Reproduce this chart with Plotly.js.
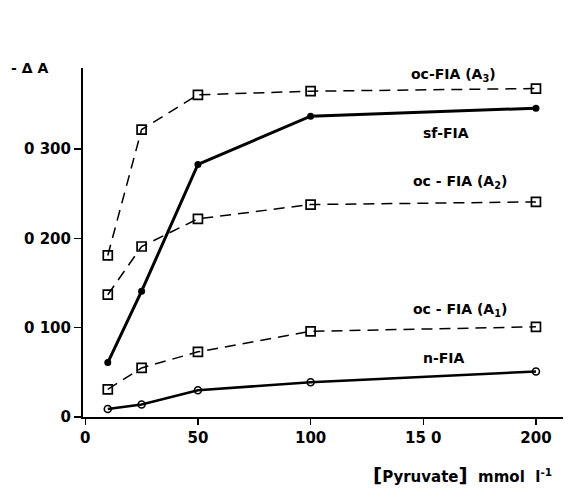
<!DOCTYPE html>
<html>
<head>
<meta charset="utf-8">
<script src="https://cdn.plot.ly/plotly-3.0.1.min.js"></script>
<style>html,body{margin:0;padding:0;background:#fff;}#chart{width:574px;height:491px;}</style>
</head>
<body>
<div id="chart"></div>
<script>
const pyruvate = [10, 25, 50, 100, 200];
const ocA3 = [0.181, 0.322, 0.361, 0.365, 0.368];
const sfFIA = [0.061, 0.141, 0.283, 0.337, 0.346];
const ocA2 = [0.137, 0.191, 0.222, 0.238, 0.241];
const ocA1 = [0.031, 0.055, 0.073, 0.096, 0.101];
const nFIA = [0.009, 0.014, 0.030, 0.039, 0.051];
const xTickVals = [0, 50, 100, 150, 200];
const xTickText = ["0", "50", "100", "15 0", "200"];
const yTickVals = [0, 0.1, 0.2, 0.3];
const yTickText = ["0", "0 100", "0 200", "0 300"];

const dashed = {color: "#000", width: 1.5, dash: "11px,7px"};
const openSq = {symbol: "square-open", size: 9, color: "#000", line: {width: 1.7, color: "#000"}};

const traces = [
  {x: pyruvate, y: ocA3, mode: "lines+markers", line: dashed, marker: openSq},
  {x: pyruvate, y: ocA2, mode: "lines+markers", line: dashed, marker: openSq},
  {x: pyruvate, y: ocA1, mode: "lines+markers", line: dashed, marker: openSq},
  {x: pyruvate, y: sfFIA, mode: "lines+markers", line: {color: "#000", width: 3},
   marker: {symbol: "circle", size: 7, color: "#000"}},
  {x: pyruvate, y: nFIA, mode: "lines+markers", line: {color: "#000", width: 2.6},
   marker: {symbol: "circle-open", size: 7, color: "#000", line: {width: 1.6, color: "#000"}}}
];

const fam = "DejaVu Sans, Verdana, sans-serif";
const font = {family: fam, size: 14, color: "#000", weight: "bold"};
const labels = [
  {x: 200, y: 0.383, text: "oc-FIA (A<sub>3</sub>)", dx: -82},
  {x: 200, y: 0.318, text: "sf-FIA", dx: -90},
  {x: 200, y: 0.263, text: "oc - FIA (A<sub>2</sub>)", dx: -76},
  {x: 200, y: 0.120, text: "oc - FIA (A<sub>1</sub>)", dx: -76},
  {x: 200, y: 0.066, text: "n-FIA", dx: -92}
];
const annotations = labels.map(l => ({
  x: l.x, y: l.y, xref: "x", yref: "y", text: l.text, showarrow: false,
  xshift: l.dx, font: font
}));
annotations.push({xref: "paper", yref: "paper", x: -0.155, y: 1.0, xanchor: "left", yanchor: "middle",
  text: "- Δ A", showarrow: false, font: font});
annotations.push({xref: "paper", yref: "paper", x: 0.79, y: -0.165, xanchor: "center", yanchor: "middle",
  text: "<span style='font-size:20px'>[</span>Pyruvate<span style='font-size:20px'>]</span>  mmol  l<sup>-1</sup>",
  showarrow: false, font: {family: fam, size: 15, color: "#000", weight: "bold"}});

const tickfont = {family: fam, size: 15, color: "#000", weight: "bold"};
const layout = {
  width: 574, height: 491,
  margin: {l: 83, r: 11, t: 68, b: 74},
  paper_bgcolor: "#fff", plot_bgcolor: "#fff",
  showlegend: false,
  font: font,
  xaxis: {
    range: [-1, 212], tickvals: xTickVals, ticktext: xTickText,
    showgrid: false, zeroline: false, showline: true, linecolor: "#000", linewidth: 2,
    ticks: "outside", ticklen: 6, tickwidth: 1.5, tickcolor: "#000",
    tickfont: tickfont
  },
  yaxis: {
    range: [0, 0.391], tickvals: yTickVals, ticktext: yTickText,
    showgrid: false, zeroline: false, showline: true, linecolor: "#000", linewidth: 2,
    ticks: "outside", ticklen: 7, tickwidth: 1.5, tickcolor: "#000",
    tickfont: tickfont
  },
  annotations: annotations
};

Plotly.newPlot("chart", traces, layout, {displayModeBar: false, staticPlot: true});
</script>
</body>
</html>
